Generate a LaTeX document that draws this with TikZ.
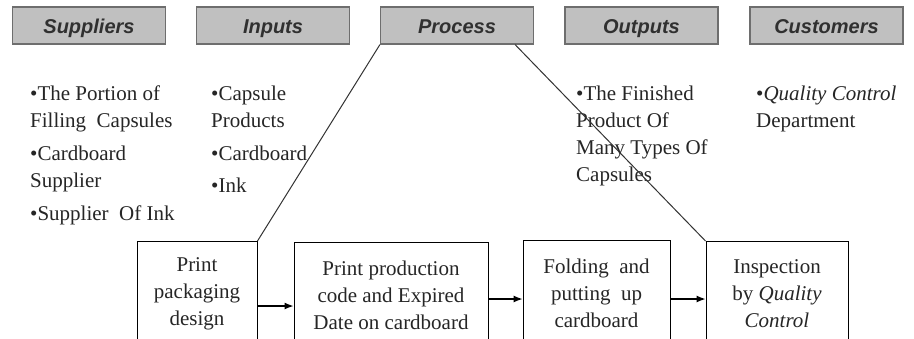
\documentclass[tikz,border=0pt]{standalone}
\usepackage{fontspec}
\setmainfont{Liberation Serif}
\newfontfamily\hdrfont{Liberation Sans}
\usetikzlibrary{arrows.meta}
\definecolor{hdrfill}{HTML}{C0C0C0}
\definecolor{hdrline}{HTML}{6E6E6E}
\definecolor{hdrtext}{HTML}{303030}
\begin{document}
\begin{tikzpicture}[x=1pt,y=-1pt,
  hdr/.style={draw=hdrline,line width=1.2pt,fill=hdrfill,minimum width=153pt,minimum height=37pt,inner sep=0pt,
    text height=17pt,text depth=2pt,
    font=\hdrfont\fontsize{20}{22}\selectfont\bfseries\itshape,text=hdrtext},
  txt/.style={anchor=north west,align=left,inner sep=0pt,font=\fontsize{21}{27}\selectfont,text=black!85},
  stepbox/.style={draw,line width=1pt,anchor=north,minimum height=105pt,inner sep=0pt,align=center,
    font=\fontsize{21}{27}\selectfont,text=black!85},
  arr/.style={-{Latex[length=9pt,width=7pt]},line width=1.2pt},
  conn/.style={line width=1pt,black!80}]
\useasboundingbox (0,0) rectangle (914,338);
\fill[white] (0,0) rectangle (914,338);
% headers
\node[hdr] (sup) at (89,25.5) {Suppliers};
\node[hdr] (inp) at (273,25.5) {Inputs};
\node[hdr] (pro) at (457,25.5) {Process};
\node[hdr] (out) at (641.5,25.5) {Outputs};
\node[hdr] (cus) at (826.5,25.5) {Customers};
% column texts (top = first baseline - strut height)
\node[txt] (s1) at (30,81) {\strut•The Portion of\\Filling\ \ Capsules};
\node[txt] (s2) at (30,141) {\strut•Cardboard\\Supplier};
\node[txt] (s3) at (30,201) {\strut•Supplier\ \ Of Ink};
\node[txt] (i1) at (211,81) {\strut•Capsule\\Products};
\node[txt] (i2) at (211,141) {\strut•Cardboard};
\node[txt] (i3) at (211,173) {\strut•Ink};
\node[txt] (o1) at (576,81) {\strut•The Finished\\Product Of\\Many Types Of\\Capsules};
\node[txt] (c1) at (756,81) {\strut•\textit{Quality Control}\\Department};
% process steps
\node[stepbox,minimum width=120pt] (b1) at (197,241) {Print\\packaging\\design};
\node[stepbox,minimum width=194pt] (b2) at (391,242) {Print production\\code and Expired\\Date on cardboard};
\node[stepbox,minimum width=147pt] (b3) at (596.5,240) {Folding\ \ and\\putting\ \ up\\cardboard};
\node[stepbox,minimum width=142pt] (b4) at (777,241) {Inspection\\by \textit{Quality}\\\textit{Control}};
% arrows
\draw[arr] ([yshift=-65pt]b1.north east) -- ([yshift=-64pt]b2.north west);
\draw[arr] ([yshift=-57pt]b2.north east) -- ([yshift=-59pt]b3.north west);
\draw[arr] ([yshift=-59pt]b3.north east) -- ([yshift=-58pt]b4.north west);
% diagonal connectors
\draw[conn] (pro.south west) -- (b1.north east);
\draw[conn] ([xshift=-19pt]pro.south east) -- (b4.north west);
\end{tikzpicture}
\end{document}
